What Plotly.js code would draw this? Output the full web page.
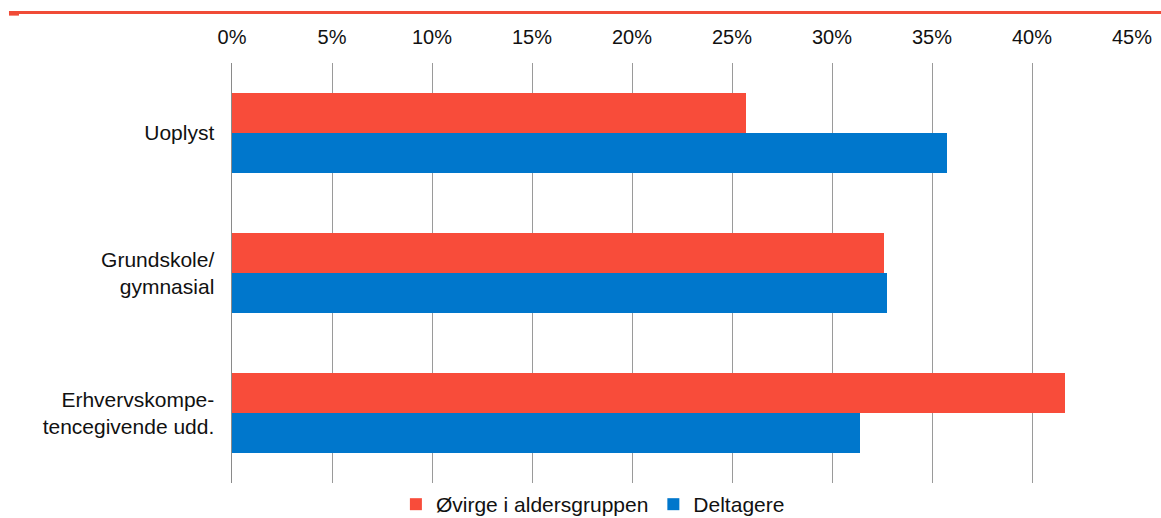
<!DOCTYPE html>
<html>
<head>
<meta charset="utf-8">
<script src="https://cdn.plot.ly/plotly-3.0.1.min.js"></script>
<style>html,body{margin:0;padding:0;background:#fff;}#chart{width:1161px;height:518px;}</style>
</head>
<body>
<div id="chart"></div>
<script>
const categories = ["Uoplyst", "Grundskole/<br>gymnasial", "Erhvervskompe-<br>tencegivende udd."];
const seriesNames = ["Øvirge i aldersgruppen", "Deltagere"];
const oevrige = [25.7, 32.6, 41.65];
const deltagere = [35.75, 32.75, 31.4];
const xTicks = [0, 5, 10, 15, 20, 25, 30, 35, 40, 45];

const RED = "#F84C3A";
const BLUE = "#0077CC";
const FONT = {family: "Liberation Sans, Arial, sans-serif", size: 20, color: "#111"};

const traces = [
  {type: "bar", orientation: "h", name: seriesNames[0], y: categories, x: oevrige,
   marker: {color: RED}, hoverinfo: "x+y"},
  {type: "bar", orientation: "h", name: seriesNames[1], y: categories, x: deltagere,
   marker: {color: BLUE}, hoverinfo: "x+y"}
];

const layout = {
  width: 1161, height: 518,
  margin: {l: 232, r: 29, t: 63, b: 35, autoexpand: false},
  paper_bgcolor: "#fff", plot_bgcolor: "#fff",
  font: FONT,
  barmode: "group", bargap: 0.4286, bargroupgap: 0,
  showlegend: true,
  legend: {orientation: "h", x: 0.401, xanchor: "center", xref: "paper",
           y: 0.026, yanchor: "middle", yref: "container",
           font: {family: FONT.family, size: 21, color: "#111"}, traceorder: "normal", itemwidth: 20},
  xaxis: {side: "top", range: [0, 45], tickvals: xTicks, ticktext: xTicks.map(v => v + "%"),
          showgrid: true, gridcolor: "#9a9a9a", gridwidth: 1, automargin: false,
          zeroline: false, showline: false, ticks: "", ticklabelstandoff: 14, fixedrange: true},
  yaxis: {autorange: "reversed", type: "category", showgrid: false, zeroline: false, automargin: false,
          showline: true, linecolor: "#8a8a8a", linewidth: 1.5, ticks: "", ticklabelstandoff: 12,
          tickfont: {family: FONT.family, size: 21, color: "#111"}, fixedrange: true},
  shapes: [
    {type: "rect", xref: "paper", yref: "paper", x0: -0.2478, x1: 1.04, y0: 1.1167, y1: 1.1238,
     fillcolor: "#F04B37", line: {width: 0}},
    {type: "rect", xref: "paper", yref: "paper", x0: -0.2478, x1: -0.2367, y0: 1.1128, y1: 1.1167,
     fillcolor: "#F04B37", line: {width: 0}}
  ]
};

Plotly.newPlot("chart", traces, layout, {displayModeBar: false, staticPlot: true});
</script>
</body>
</html>
